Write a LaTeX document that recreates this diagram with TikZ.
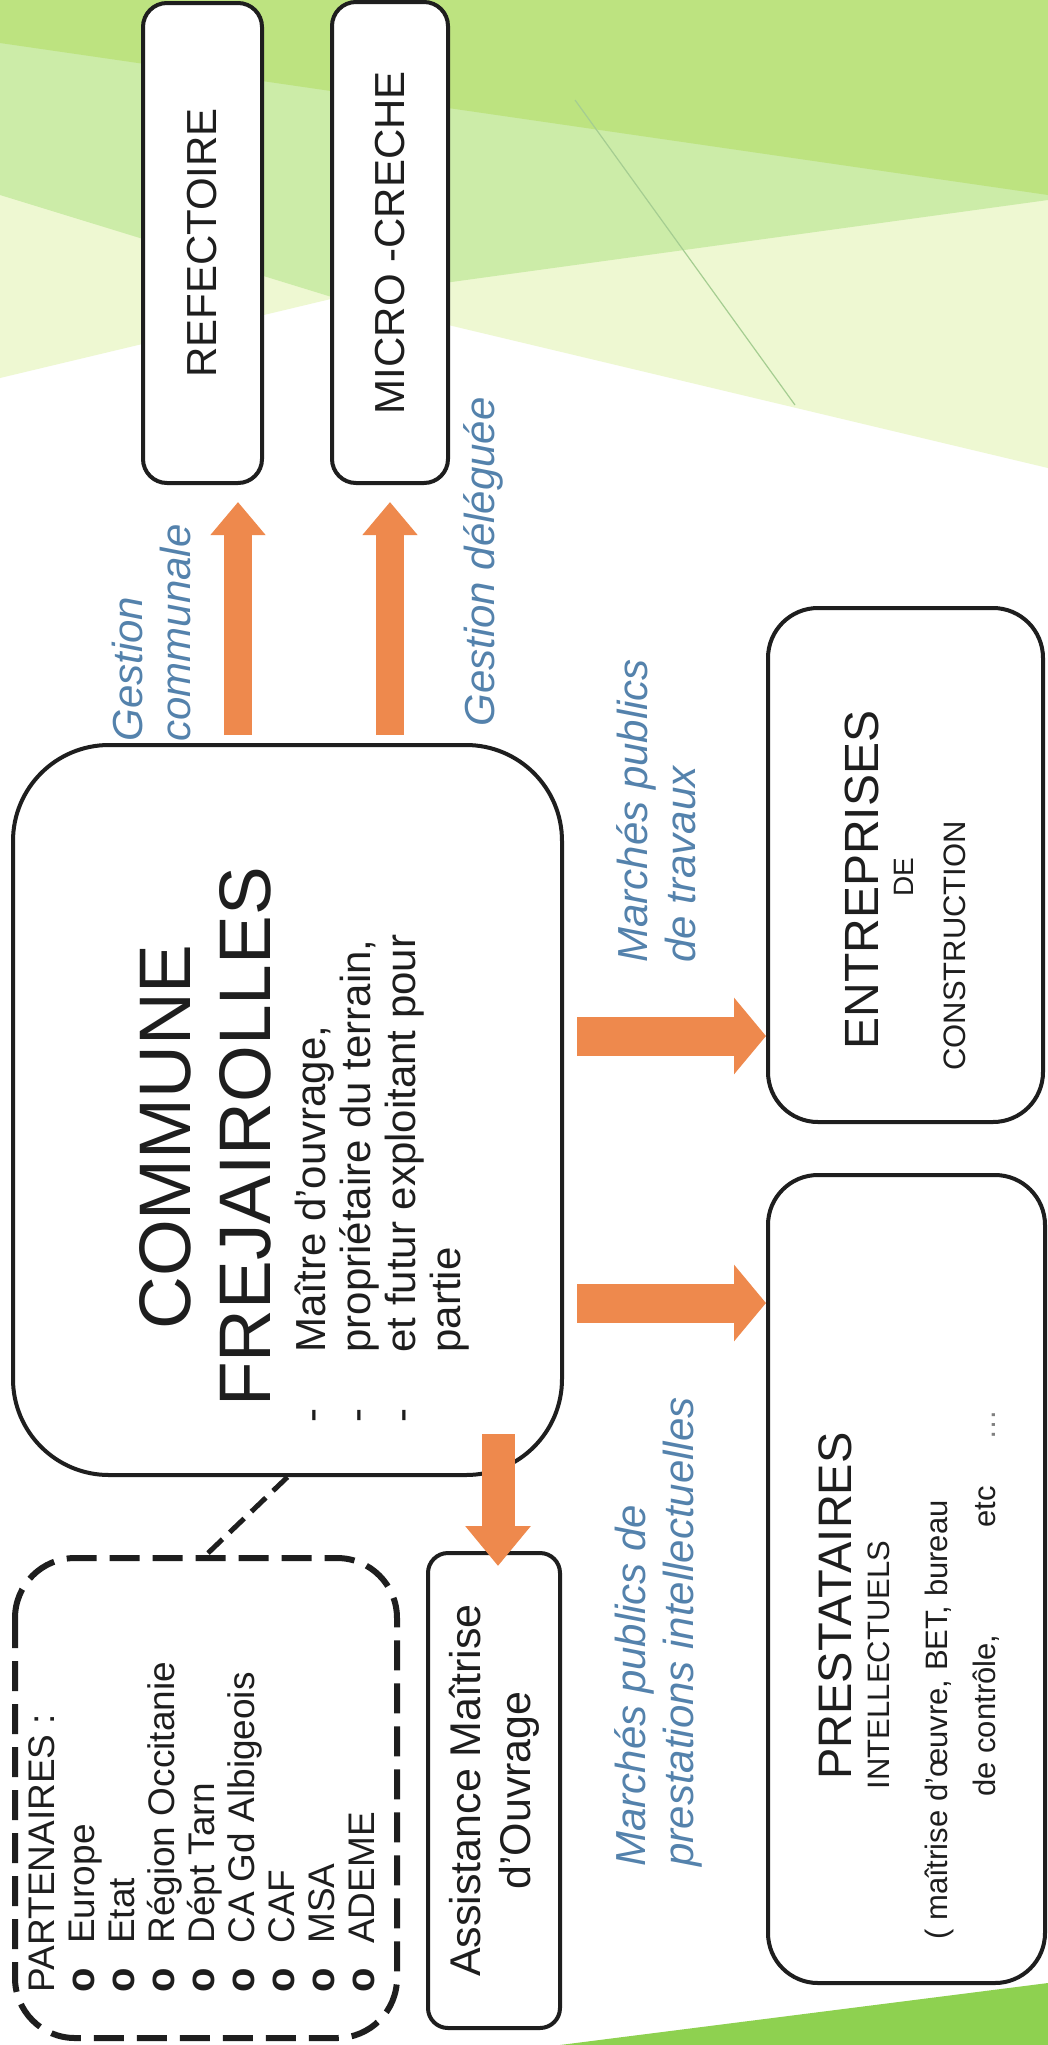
\documentclass[tikz,border=0pt]{standalone}
\usepackage{fontspec}
\setmainfont{Liberation Sans}
\usepackage{tikz}
\usetikzlibrary{arrows.meta, calc, positioning}
\definecolor{topgreen}{RGB}{189,227,128}
\definecolor{midgreen}{RGB}{204,236,168}
\definecolor{palegreen}{RGB}{238,248,210}
\definecolor{cornergreen}{RGB}{142,209,80}
\definecolor{streakgreen}{RGB}{165,205,145}
\definecolor{arroworange}{RGB}{238,137,77}
\definecolor{labelblue}{RGB}{84,130,172}
\definecolor{inkblack}{RGB}{30,30,30}
\tikzstyle{servicebox} = [rectangle, rounded corners=12pt, draw=inkblack, line width=2pt, fill=white, rotate=90, inner sep=0pt, align=center, text=inkblack, font=\fontsize{21}{25}\selectfont]
\tikzstyle{mainbox} = [servicebox, rounded corners=48pt]
\tikzstyle{marketbox} = [servicebox, rounded corners=25pt]
\tikzstyle{partnerbox} = [servicebox, rounded corners=30pt, line width=3pt, dash pattern=on 15pt off 6.5pt, font=\fontsize{18.5}{20}\selectfont]
\tikzstyle{boxtext} = [rotate=90, inner sep=0pt, text=inkblack]
\tikzstyle{legend} = [rotate=90, inner sep=0pt, anchor=north west, align=left, text=labelblue, font=\itshape\fontsize{21}{24}\selectfont]
\tikzstyle{arrowup} = [draw=arroworange, line width=14pt, -{Triangle[length=16.5pt,width=26.5pt]}]
\tikzstyle{arrowright} = [draw=arroworange, line width=19.5pt, -{Triangle[length=16pt,width=37.5pt]}]
\tikzstyle{arrowdown} = [draw=arroworange, line width=16.5pt, -{Triangle[length=20pt,width=31.5pt]}]
\tikzstyle{dashlink} = [draw=inkblack, line width=2.5pt, dash pattern=on 10pt off 5pt]

\begin{document}
\begin{tikzpicture}[x=0.5pt, y=-0.5pt]

\useasboundingbox (0,0) rectangle (1048,2045);
\fill [white] (0,0) rectangle (1048,2045);
\fill [palegreen] (0,0) -- (1048,0) -- (1048,468) -- (335,298) -- (0,378) -- cycle;
\fill [midgreen] (0,0) -- (1048,0) -- (1048,200) -- (335,298) -- (0,195) -- cycle;
\fill [topgreen] (0,0) -- (1048,0) -- (1048,195) -- (0,43) -- cycle;
\draw [streakgreen, line width=0.6pt] (575,100) -- (795,405);
\fill [cornergreen] (560,2045) -- (1048,1983) -- (1048,2045) -- cycle;

\node (refect) [servicebox, minimum width=240pt, minimum height=59.5pt] at (202.5,243) {REFECTOIRE};
\node (micro) [servicebox, minimum width=240.5pt, minimum height=58pt] at (390,242.5) {MICRO -CRECHE};
\node (commune) [mainbox, minimum width=365pt, minimum height=274.5pt] at (287.5,1110) {};
\node (entr) [marketbox, minimum width=257pt, minimum height=137.5pt] at (905.5,865) {};
\node (prest) [marketbox, minimum width=404pt, minimum height=138.5pt] at (906.5,1579) {};
\node (amo) [servicebox, rounded corners=10pt, minimum width=237.5pt, minimum height=66pt, font=\fontsize{21.5}{25}\selectfont] at (494,1790.5) {Assistance Maîtrise\\d’Ouvrage};
\node (partners) [partnerbox, minimum width=240pt, minimum height=191pt] at (206,1798) {\begin{tabular}{@{}l@{\hspace{12pt}}l@{\hspace{29pt}}}
\multicolumn{2}{@{}l@{\hspace{29pt}}}{PARTENAIRES :}\\
{\fontsize{20}{20}\selectfont\bfseries o} & Europe\\
{\fontsize{20}{20}\selectfont\bfseries o} & Etat\\
{\fontsize{20}{20}\selectfont\bfseries o} & Région Occitanie\\
{\fontsize{20}{20}\selectfont\bfseries o} & Dépt Tarn\\
{\fontsize{20}{20}\selectfont\bfseries o} & CA Gd Albigeois\\
{\fontsize{20}{20}\selectfont\bfseries o} & CAF\\
{\fontsize{20}{20}\selectfont\bfseries o} & MSA\\
{\fontsize{20}{20}\selectfont\bfseries o} & ADEME
\end{tabular}};

\node (communeName) [boxtext, align=center, font=\fontsize{36.5}{40}\selectfont] at (205,1137) {COMMUNE\\FREJAIROLLES};
\node (communeRole) [boxtext, anchor=north west, font=\fontsize{21}{22.5}\selectfont] at (293.5,1423) {\begin{tabular}{@{}l@{\hspace{28pt}}l@{}}
- & Maître d’ouvrage,\\
- & propriétaire du terrain,\\
- & et futur exploitant pour\\
  & partie
\end{tabular}};
\node (entrName) [boxtext, font=\fontsize{24}{28}\selectfont] at (861.5,880) {ENTREPRISES};
\node (entrDe) [boxtext, font=\fontsize{14}{16}\selectfont] at (903.5,877) {DE};
\node (entrTrade) [boxtext, font=\fontsize{15.5}{18}\selectfont] at (955,946) {CONSTRUCTION};
\node (prestName) [boxtext, font=\fontsize{23.5}{28}\selectfont] at (835.5,1606) {PRESTATAIRES};
\node (prestKind) [boxtext, font=\fontsize{15.5}{18}\selectfont] at (879,1665) {INTELLECTUELS};
\node (prestList) [boxtext, anchor=north west, align=left, font=\fontsize{15.5}{24}\selectfont] at (925,1940) {( maîtrise d’œuvre, BET, bureau\\\hspace*{71.5pt}de contrôle,\hspace{53.5pt}etc\hspace{23pt}{\color{gray}…}};

\node (gestComm) [legend] at (112,742) {Gestion\\communale};
\node (gestDel) [legend] at (463,727) {Gestion déléguée};
\node (mpTrav) [legend] at (616,963) {Marchés publics\\de travaux};
\node (mpPrest) [legend] at (614,1867) {Marchés publics de\\prestations intellectuelles};

\coordinate (toentr) at ($(commune.south)+(13,-74)$);
\coordinate (toprest) at ($(commune.south)+(13,193)$);

\draw [arrowup] ($(commune.east)+(-49.5,-8)$) -- ($(refect.west)+(35.5,17)$);
\draw [arrowup] ($(micro.west |- commune.east)+(0,-8)$) -- ($(micro.west)+(0,17)$);
\draw [arrowright] (toentr) -- (entr.north |- toentr);
\draw [arrowright] (toprest) -- (prest.north |- toprest);
\draw [arrowdown] ($(amo.east |- commune.west)+(4,-43)$) -- ($(amo.east)+(4,15)$);
\draw [dashlink] (commune.west) -- (partners.east);

\end{tikzpicture}
\end{document}
